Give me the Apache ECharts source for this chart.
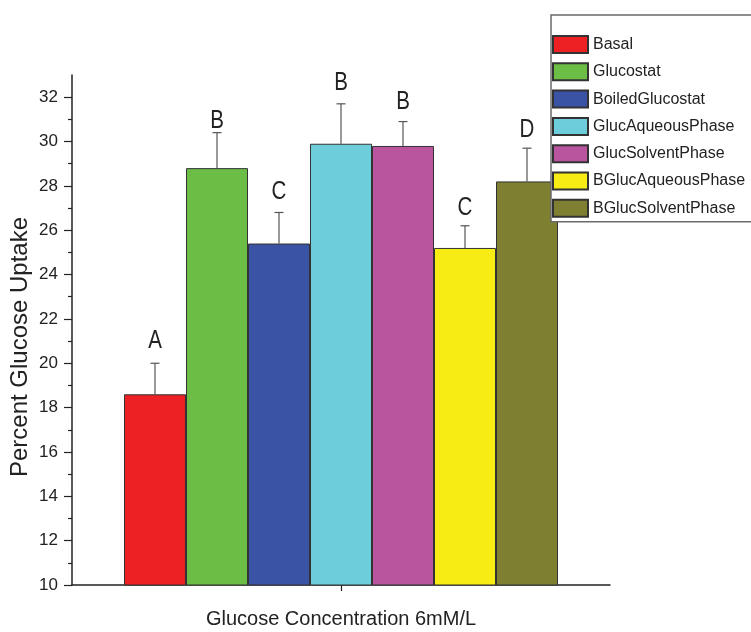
<!DOCTYPE html>
<html>
<head>
<meta charset="utf-8">
<script src="https://cdn.jsdelivr.net/npm/echarts@6/dist/echarts.min.js"></script>
<style>html,body{margin:0;padding:0;background:#fff}#c{width:751px;height:632px}</style>
</head>
<body>
<div id="c"></div>
<script>
const categories = [''];
const seriesNames = ['Basal', 'Glucostat', 'BoiledGlucostat', 'GlucAqueousPhase', 'GlucSolventPhase', 'BGlucAqueousPhase', 'BGlucSolventPhase'];
const values = [18.6, 28.8, 25.4, 29.9, 29.8, 25.2, 28.2];
const errors = [1.4, 1.6, 1.4, 1.8, 1.1, 1.0, 1.5];
const letters = ['A', 'B', 'C', 'B', 'B', 'C', 'D'];
const letterBase = [20.6, 30.5, 27.3, 32.25, 31.35, 26.6, 30.1];
const yTicks = [10, 12, 14, 16, 18, 20, 22, 24, 26, 28, 30, 32];
const colors = ['#ED2024', '#6BBD45', '#3A53A4', '#6DCDDB', '#B9559E', '#F7EC13', '#7F7F32'];

const FONT = "'Liberation Sans', Arial, sans-serif";
const BAR_W = 62;
const N = seriesNames.length;

const chart = echarts.init(document.getElementById('c'));

const barSeries = seriesNames.map((name, i) => ({
  name: name,
  type: 'bar',
  data: [values[i]],
  barWidth: BAR_W,
  barGap: '0%',
  itemStyle: { color: colors[i], borderColor: '#333', borderWidth: 1 },
  z: 2
}));

const errData = values.map((v, i) => [0, v, errors[i], i, letterBase[i]]);

const errSeries = {
  type: 'custom',
  coordinateSystem: 'cartesian2d',
  data: errData,
  clip: false,
  z: 3,
  encode: { x: 0, y: 1 },
  renderItem: function (params, api) {
    const v = api.value(1), e = api.value(2), idx = api.value(3), lb = api.value(4);
    const base = api.coord([0, v]);
    const top = api.coord([0, v + e]);
    const lab = api.coord([0, lb]);
    const x = base[0] + (idx - (N - 1) / 2) * BAR_W;
    const cap = 4.5;
    return {
      type: 'group',
      children: [
        { type: 'line', shape: { x1: x, y1: base[1], x2: x, y2: top[1] }, style: { stroke: '#555', lineWidth: 1.2 } },
        { type: 'line', shape: { x1: x - cap, y1: top[1], x2: x + cap, y2: top[1] }, style: { stroke: '#555', lineWidth: 1.2 } },
        { type: 'text', x: x, y: lab[1] - 9, scaleX: 0.82, style: { text: letters[idx], fill: '#222', font: '25px ' + FONT, align: 'center', verticalAlign: 'middle' } }
      ]
    };
  }
};

chart.setOption({
  animation: false,
  backgroundColor: '#fff',
  grid: { left: 72, right: 141, top: 75, bottom: 47, containLabel: false, outerBoundsMode: 'none' },
  legend: {
    data: seriesNames,
    orient: 'vertical',
    left: 551,
    top: 15,
    padding: [20, 16, 4, 1],
    itemWidth: 35,
    itemHeight: 17,
    itemGap: 8.3,
    icon: 'rect',
    backgroundColor: '#fff',
    borderColor: '#6a6a6a',
    borderWidth: 1.5,
    borderRadius: 0,
    selectedMode: false,
    textStyle: { fontFamily: FONT, fontSize: 16, color: '#222', lineHeight: 17 },
    z: 10
  },
  xAxis: {
    type: 'category',
    data: categories,
    name: 'Glucose Concentration 6mM/L',
    nameLocation: 'middle',
    nameGap: 24,
    nameTextStyle: { fontFamily: FONT, fontSize: 20, color: '#222' },
    axisLine: { lineStyle: { color: '#222', width: 1.5 } },
    axisTick: { show: true, alignWithLabel: true, length: 6, lineStyle: { color: '#222', width: 1.2 } },
    axisLabel: { show: false },
    splitLine: { show: false }
  },
  yAxis: {
    type: 'value',
    min: 10,
    max: 33,
    interval: 2,
    name: 'Percent Glucose Uptake',
    nameLocation: 'middle',
    nameGap: 40,
    nameMoveOverlap: false,
    nameRotate: 90,
    nameTextStyle: { fontFamily: FONT, fontSize: 24, color: '#222', padding: [0, 34, 0, 0] },
    axisLine: { show: true, lineStyle: { color: '#222', width: 1.5 } },
    axisTick: { show: true, inside: false, length: 8, customValues: yTicks, lineStyle: { color: '#222', width: 1.2 } },
    minorTick: { show: true, splitNumber: 2, length: 4, lineStyle: { color: '#222', width: 1.2 } },
    axisLabel: { customValues: yTicks, margin: 14, fontFamily: FONT, fontSize: 17, color: '#222' },
    splitLine: { show: false },
    minorSplitLine: { show: false }
  },
  series: barSeries.concat([errSeries])
});
</script>
</body>
</html>
